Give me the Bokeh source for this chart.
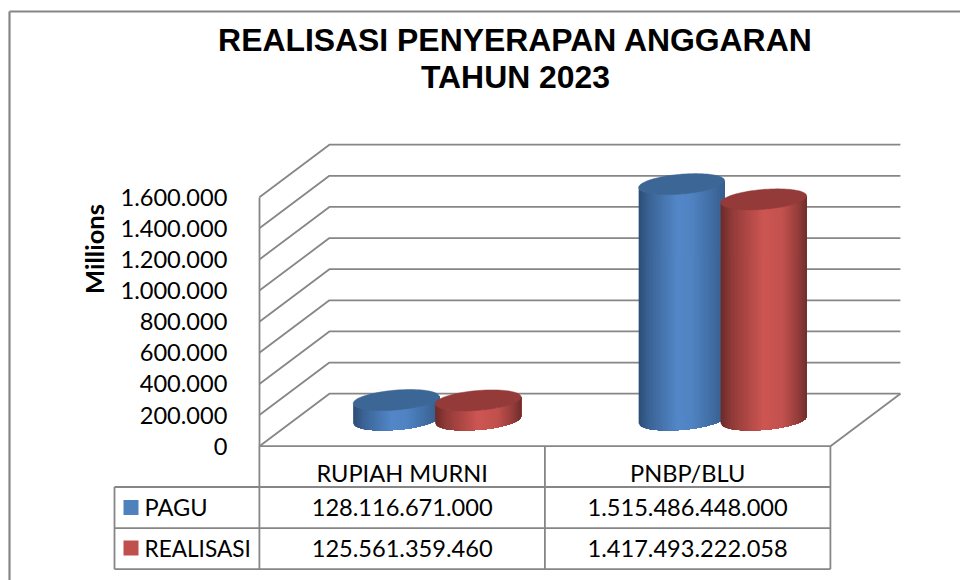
import math
from bokeh.plotting import figure
from bokeh.models import FixedTicker, Range1d
from bokeh.core.properties import value
from bokeh.embed import file_html
from bokeh.resources import INLINE

# ---- data ----
title_lines = ["REALISASI PENYERAPAN ANGGARAN", "TAHUN 2023"]
categories = ["RUPIAH MURNI", "PNBP/BLU"]
series_names = ["PAGU", "REALISASI"]
pagu = [128116671000, 1515486448000]
realisasi = [125561359460, 1417493222058]
pagu_labels = ["128.116.671.000", "1.515.486.448.000"]
realisasi_labels = ["125.561.359.460", "1.417.493.222.058"]
y_ticks = [0, 200000, 400000, 600000, 800000, 1000000, 1200000, 1400000, 1600000]
y_tick_labels = ["0", "200.000", "400.000", "600.000", "800.000", "1.000.000",
                 "1.200.000", "1.400.000", "1.600.000"]
y_title = "Millions"

# ---- layout (screen pixels of the 960x580 page) ----
PAGE_L, PAGE_T, W, H = 0, 0, 960, 580
AX_X, AX_Y = 258.9, 445.7          # origin of the front wall
CAT_PX = 285.5                     # width of one category
VAL_PER_PX = 1600000 / 249.0       # millions per pixel
DEPTH_X, DEPTH_Y = 70.0, 52.5      # oblique offset of the back wall


def X(sx):
    return (sx - AX_X) / CAT_PX


def Y(sy):
    return (AX_Y - sy) * VAL_PER_PX


dx = DEPTH_X / CAT_PX
dy = DEPTH_Y * VAL_PER_PX
GRID = "#868686"
BLACK = "#000000"
FONT = "Lato"

p = figure(width=W, height=H, output_backend="svg", toolbar_location=None,
           x_range=Range1d(X(PAGE_L), X(PAGE_L + W)),
           y_range=Range1d(Y(PAGE_T + H), Y(PAGE_T)),
           x_axis_location=None, min_border=0, tools="")
p.outline_line_color = None
p.grid.visible = False
p.background_fill_color = "#ffffff"
p.border_fill_color = "#ffffff"

# y axis standing on the front wall
ax = p.yaxis[0]
ax.fixed_location = 0.0
ax.bounds = (y_ticks[0], y_ticks[-1])
ax.ticker = FixedTicker(ticks=y_ticks)
ax.major_label_overrides = dict(zip(y_ticks, y_tick_labels))
ax.major_tick_in = 0
ax.major_tick_out = 0
ax.minor_tick_in = 0
ax.minor_tick_out = 0
ax.axis_line_color = GRID
ax.axis_line_width = 1.8
ax.major_label_standoff = 32
ax.major_label_text_font = FONT
ax.major_label_text_font_size = "23.6px"
ax.major_label_text_color = BLACK

n = len(categories)
# walls
xs, ys = [], []
for v in y_ticks:
    xs.append([0, dx, n + dx])
    ys.append([v, v + dy, v + dy])
xs.append([0, n, n + dx])
ys.append([0, 0, dy])
p.multi_line(xs, ys, line_color=GRID, line_width=1.8)


# cylinders
def mix(c1, c2, f):
    return "#%02x%02x%02x" % tuple(round(a + (b - a) * f) for a, b in zip(c1, c2))


def shade(stops, f):
    for (f1, c1), (f2, c2) in zip(stops, stops[1:]):
        if f <= f2:
            return mix(c1, c2, (f - f1) / (f2 - f1))
    return mix(stops[-1][1], stops[-1][1], 0)


BLUE_STOPS = [(0, (0x2c, 0x4d, 0x75)), (0.12, (0x3a, 0x63, 0x95)), (0.45, (0x53, 0x87, 0xc8)),
              (0.62, (0x50, 0x83, 0xc2)), (0.85, (0x40, 0x6d, 0xa3)), (1, (0x38, 0x5d, 0x8a))]
RED_STOPS = [(0, (0x6a, 0x2b, 0x29)), (0.12, (0x8f, 0x3a, 0x38)), (0.5, (0xcd, 0x56, 0x52)),
             (0.72, (0xc2, 0x51, 0x4e)), (0.9, (0x94, 0x3d, 0x3a)), (1, (0x6f, 0x2e, 0x2c))]
TOPS = ["#3c6695", "#943a38"]
SWATCHES = ["#4f81bd", "#c0504d"]
R_PX, C_PX = 43.0, 10.5
B_PX = C_PX * DEPTH_X / DEPTH_Y
A_PX = math.sqrt(R_PX ** 2 - B_PX ** 2)
T0 = math.atan2(B_PX, A_PX)
OFFSET_PX = 41.0
STRIPS = 60


def rim(cx, cy, t):
    return (cx + (A_PX * math.cos(t) + B_PX * math.sin(t)) / CAT_PX,
            cy + C_PX * math.sin(t) * VAL_PER_PX)


def cylinder(cat, sign, val_millions, stops, top):
    cx = cat + 0.5 + dx / 2 + sign * OFFSET_PX / CAT_PX
    base = dy / 2
    head = base + val_millions
    ts = [T0 + math.pi + math.acos(1 - 2 * k / STRIPS) for k in range(STRIPS + 1)]
    sx, sy, col = [], [], []
    # each band reaches to the right edge and is painted over by the next one,
    # so that no seams appear between the bands
    for k in range(STRIPS):
        low = [rim(cx, base, t) for t in ts[k:]]
        high = [rim(cx, head, t) for t in reversed(ts[k:])]
        sx.append([q[0] for q in low + high])
        sy.append([q[1] for q in low + high])
        col.append(shade(stops, (k + 0.5) / STRIPS))
    p.patches(sx, sy, fill_color=col, line_color=None)
    loop = [2 * math.pi * i / 80 for i in range(80)]
    pts = [rim(cx, head, t) for t in loop]
    p.patch([q[0] for q in pts], [q[1] for q in pts], fill_color=top, line_color=top, line_width=0.5)


for i in range(n):
    cylinder(i, -1, pagu[i] / 1e6, BLUE_STOPS, TOPS[0])
    cylinder(i, 1, realisasi[i] / 1e6, RED_STOPS, TOPS[1])

# frame of the chart area
p.multi_line([[X(9), X(9)], [X(9), X(960)]], [[Y(580), Y(11)], [Y(11), Y(11)]],
             line_color=GRID, line_width=2.2)

# data table
TOP_R, ROW1, ROW2, ROW3 = 445.7, 486.5, 527.7, 568.7
LEFT_T = 114.0
tx = [[0, 0], [1, 1], [2, 2], [X(LEFT_T), X(LEFT_T)],
      [X(LEFT_T), 2], [X(LEFT_T), 2], [X(LEFT_T), 2]]
ty = [[Y(TOP_R), Y(ROW3)]] * 3 + [[Y(ROW1), Y(ROW3)]] + [[Y(ROW1)] * 2, [Y(ROW2)] * 2, [Y(ROW3)] * 2]
p.multi_line(tx, ty, line_color=GRID, line_width=1.8)

cell_x = [i + 0.5 for i in range(n)]
txt = dict(text_font=value(FONT), text_color=BLACK, text_baseline="middle", text_font_size="23.6px")
p.text(cell_x, [Y(472)] * n, text=categories, text_align="center", **txt)
p.text(cell_x, [Y(507)] * n, text=pagu_labels, text_align="center", **txt)
p.text(cell_x, [Y(548)] * n, text=realisasi_labels, text_align="center", **txt)
p.text([X(144)], [Y(506.5)], text=series_names[:1], text_align="left", **txt)
txt["text_font_size"] = "22.6px"
p.text([X(144)], [Y(547.5)], text=series_names[1:], text_align="left", **txt)
p.quad(left=[X(123)] * 2, right=[X(138)] * 2, top=[Y(499.5), Y(540)], bottom=[Y(514.5), Y(555)],
       fill_color=SWATCHES, line_color=None)

# titles
p.text([X(515)] * 2, [Y(39), Y(76.2)], text=title_lines, text_align="center", text_baseline="middle",
       text_font=value("Liberation Sans"), text_font_style="bold", text_font_size="31.9px", text_color=BLACK)
p.text([X(93.2)], [Y(248.5)], text=[y_title], angle=math.pi / 2, text_align="center", text_baseline="middle",
       text_font=value(FONT), text_font_style="bold", text_font_size="25.5px", text_color=BLACK)

open("out.html", "w").write(file_html(p, INLINE))
